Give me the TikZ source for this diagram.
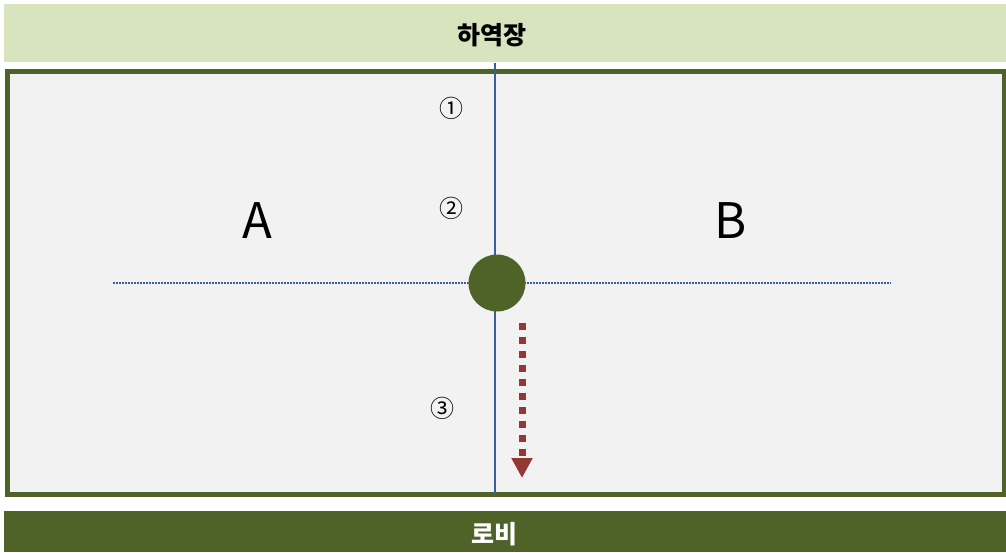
\documentclass[tikz,border=0pt]{standalone}
\usepackage{fontspec}
\setmainfont{Noto Sans CJK KR}
\usepackage{tikz}
\usetikzlibrary{arrows.meta,positioning}

\definecolor{olive}{HTML}{4F6228}
\definecolor{sage}{HTML}{D7E4BD}
\definecolor{floor}{HTML}{F2F2F2}
\definecolor{aisle}{HTML}{3A609C}
\definecolor{brick}{HTML}{953735}

\begin{document}
\begin{tikzpicture}[x=1pt,y=-1pt,
	bar/.style={rectangle,inner sep=0,minimum width=1002pt},
	zone/.style={font=\fontsize{49}{49}\selectfont},
	num/.style={font=\fontsize{24}{24}\selectfont},
	place/.style={font=\fontsize{25}{25}\selectfont\bfseries}]
\useasboundingbox (0,0) rectangle (1006,552);

\node[bar,fill=sage,minimum height=58pt] (dock) at (505,33) {};
\node[bar,fill=olive,minimum height=41pt] (lobby) at (505,531.5) {};
\node[place] (docklabel) at (492,35) {하역장};
\node[place,text=white] (lobbylabel) at (494,534) {로비};

\draw[olive,line width=5pt,fill=floor] (7.5,71.5) rectangle (1004,494.5);

\coordinate (top) at (495,63);
\coordinate (bottom) at (495,494);
\coordinate (west) at (113,283);
\coordinate (east) at (891,283);
\coordinate (start) at (522,323);
\coordinate (stop) at (522,478);

\draw[aisle,line width=1.5pt,dash pattern=on 2pt off 1pt] (west) -- (east);
\draw[aisle,line width=2pt] (top) -- (bottom);
\node[circle,fill=olive,minimum size=57pt,inner sep=0] (pivot) at (497,283) {};
\draw[brick,line width=7pt,dash pattern=on 7pt off 7pt,
	-{Triangle[width=20pt,length=20pt]}] (start) -- (stop);

\node[zone] (A) at (257,221) {A};
\node[zone] (B) at (731,221) {B};
\node[num] (n1) at (451,108) {①};
\node[num] (n2) at (451,208) {②};
\node[num] (n3) at (442,408) {③};
\end{tikzpicture}
\end{document}
